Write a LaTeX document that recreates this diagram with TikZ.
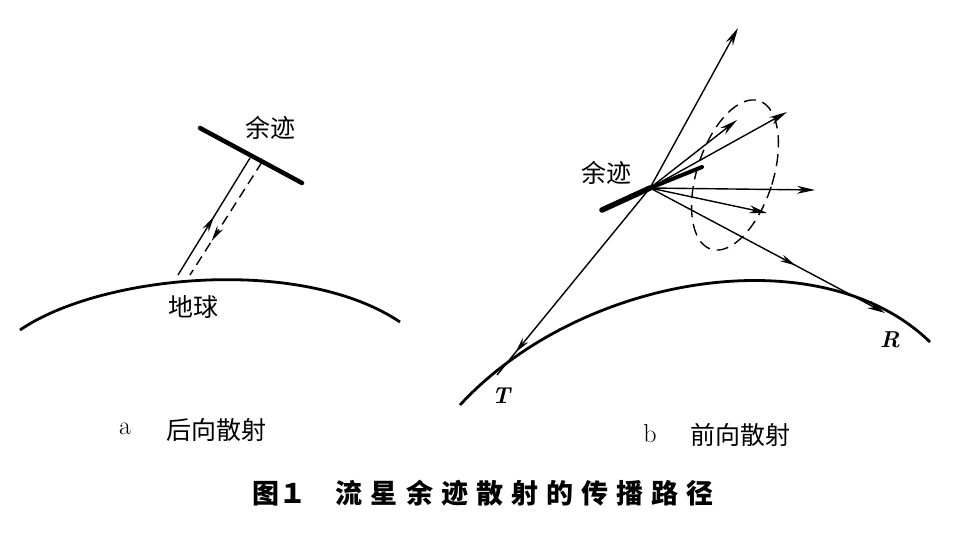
\documentclass[tikz,border=0pt]{standalone}
\usepackage{fontspec}
\newfontfamily\cjk{Noto Sans CJK SC}
\usetikzlibrary{arrows.meta,decorations.markings}
\begin{document}
\begin{tikzpicture}[x=1pt,y=-1pt,
  ray/.style={line width=1.4pt},
  trail/.style={line width=4.5pt,line cap=round},
  earth/.style={line width=2.8pt},
  mid/.style={postaction={decorate},decoration={markings,mark=at position #1 with {\arrow{Stealth[length=16pt,width=7pt]}}}},
  lab/.style={font=\cjk\fontsize{25}{27}\selectfont},
  tip/.style={-{Stealth[length=18pt,width=8pt]}}]
\useasboundingbox (0,0) rectangle (967,538);
% panel a
\draw[earth] (20,330) .. controls (100,275) and (300,255) .. (400,322);
\draw[trail] (200,128) -- (302,183);
\coordinate (a1) at (178,275); \coordinate (a2) at (250,158);
\coordinate (a3) at (190,275); \coordinate (a4) at (262,162);
\draw[ray,mid=0.5] (a1) -- (a2);
\draw[ray,dashed,dash pattern=on 10pt off 6pt,mid=0.7] (a4) -- (a3);
\node[lab] (yja) at (270,128) {余迹};
\node[lab] (dq) at (193,307) {地球};
% panel b
\draw[earth] (460,405) .. controls (580,275) and (820,235) .. (930,342);
\coordinate (P) at (650,188);
\coordinate (Tp) at (497,375);
\coordinate (Rp) at (885,313);
\draw[line width=5.5pt,line cap=round] (602,210) -- (P);
\draw[line width=4pt,line cap=round] (P) -- (702,167);
\draw[ray,dashed,dash pattern=on 12pt off 7pt,rotate around={-18:(735,175)}] (735,175) ellipse (38 and 78);
\draw[ray,tip] (P) -- (738,28);
\draw[ray,tip] (P) -- (787,112);
\draw[ray,tip] (P) -- (737,120);
\draw[ray,tip] (P) -- (815,190);
\draw[ray,tip] (P) -- (767,213);
\draw[ray,tip,mid=0.62] (P) -- (Rp);
\draw[ray,mid=0.88] (P) -- (Tp);
\node[lab] (yjb) at (606,173) {余迹};
\node[font=\bfseries\itshape\fontsize{23}{25}\selectfont] (T) at (501,396) {T};
\node[font=\bfseries\itshape\fontsize{23}{25}\selectfont] (R) at (890,340) {R};
% captions
\node[font=\fontsize{26}{28}\selectfont] (la) at (125,429) {a};
\node[lab] (ta) at (216,430) {后向散射};
\node[font=\fontsize{26}{28}\selectfont] (lb) at (650,434) {b};
\node[lab] (tb) at (740,435) {前向散射};
\node[font=\cjk\bfseries\fontsize{27}{29}\selectfont,inner sep=0pt] (cap) at (483,493) {图１\hspace{1.1em}流\hspace{0.3em}星\hspace{0.3em}余\hspace{0.3em}迹\hspace{0.3em}散\hspace{0.3em}射\hspace{0.3em}的\hspace{0.3em}传\hspace{0.3em}播\hspace{0.3em}路\hspace{0.3em}径};
\end{tikzpicture}
\end{document}
